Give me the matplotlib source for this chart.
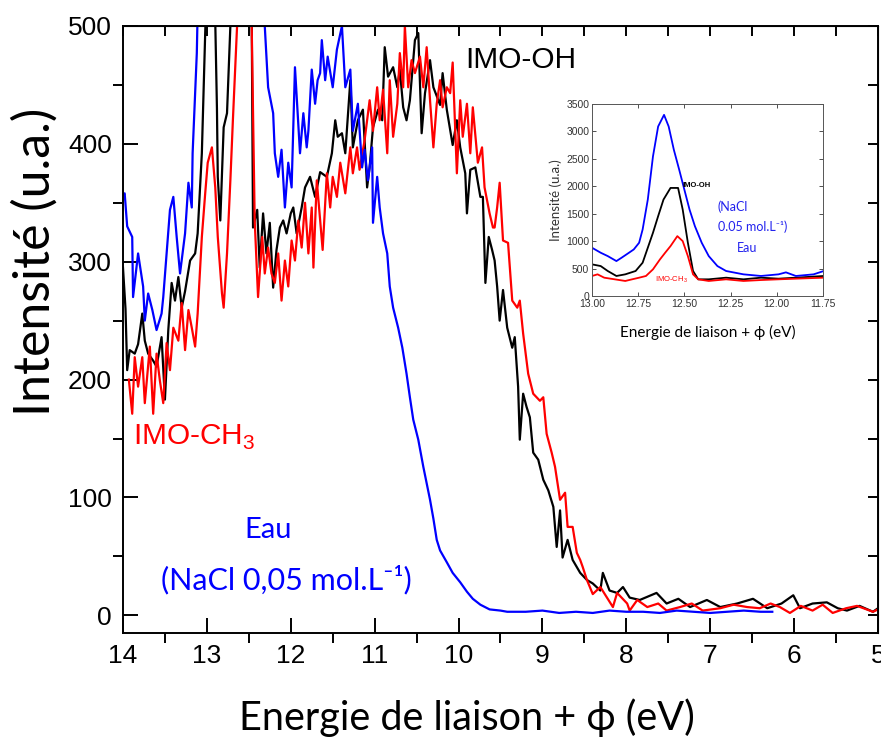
import numpy as np
import matplotlib
matplotlib.use("Agg")
import matplotlib.pyplot as plt
from matplotlib.ticker import MultipleLocator

# --- donnees (energie eV, intensite u.a.) ---
eau_x = [14.0, 13.98, 13.95, 13.89, 13.88, 13.82, 13.76, 13.74, 13.70, 13.65, 13.60, 13.54, 13.52,
         13.48, 13.44, 13.40, 13.36, 13.32, 13.26, 13.22, 13.18, 13.17, 13.12, 13.08, 13.0, 12.9,
         12.8, 12.7, 12.6, 12.5, 12.4, 12.34, 12.31, 12.27, 12.21, 12.19, 12.15, 12.11, 12.07,
         12.03, 11.99, 11.95, 11.89, 11.85, 11.81, 11.79, 11.75, 11.71, 11.68, 11.65, 11.63, 11.59,
         11.56, 11.50, 11.45, 11.39, 11.35, 11.29, 11.26, 11.20, 11.15, 11.12, 11.08, 11.03, 11.02,
         10.97, 10.94, 10.90, 10.85, 10.82, 10.78, 10.72, 10.67, 10.62, 10.58, 10.54, 10.48, 10.42,
         10.38, 10.34, 10.30, 10.26, 10.22, 10.14, 10.07, 9.98, 9.90, 9.83, 9.74, 9.63, 9.50, 9.42,
         9.2, 9.0, 8.8, 8.6, 8.4, 8.2, 8.0, 7.8, 7.6, 7.4, 7.2, 7.0, 6.8, 6.6, 6.4, 6.26]
eau_y = [357, 358, 330, 321, 270, 307, 279, 250, 273, 259, 242, 256, 270,
         307, 344, 355, 321, 290, 324, 367, 346, 392, 477, 620, 700, 720,
         800, 900, 1000, 900, 700, 560, 500, 448, 426, 392, 372, 395, 346,
         384, 363, 465, 392, 426, 397, 411, 463, 434, 454, 460, 488, 454,
         474, 448, 480, 500, 448, 463, 411, 434, 380, 395, 369, 397, 333,
         372, 346, 324, 307, 279, 261, 244, 227, 205, 185, 166, 149, 126,
         112, 98, 82, 64, 55, 45, 36, 28, 20, 14, 9, 5, 4, 3,
         3, 4, 2, 3, 2, 4, 3, 3, 2, 4, 3, 2, 3, 4, 3, 3]

oh_x = [14.0, 13.97, 13.95, 13.92, 13.86, 13.82, 13.77, 13.74, 13.70, 13.64, 13.60, 13.54, 13.50,
        13.46, 13.42, 13.38, 13.34, 13.30, 13.26, 13.20, 13.14, 13.11, 13.06, 13.02, 12.99, 12.95,
        12.91, 12.88, 12.87, 12.84, 12.80, 12.76, 12.72, 12.68, 12.6, 12.52, 12.47, 12.45, 12.40,
        12.37, 12.33, 12.29, 12.25, 12.21, 12.17, 12.13, 12.09, 12.05, 12.00, 11.97, 11.93, 11.87,
        11.83, 11.77, 11.71, 11.65, 11.57, 11.51, 11.47, 11.44, 11.39, 11.35, 11.29, 11.26, 11.20,
        11.14, 11.09, 11.06, 11.02, 10.96, 10.91, 10.88, 10.84, 10.78, 10.73, 10.70, 10.66, 10.62,
        10.58, 10.52, 10.48, 10.44, 10.40, 10.34, 10.30, 10.22, 10.19, 10.14, 10.07, 10.02, 9.98,
        9.92, 9.90, 9.86, 9.80, 9.74, 9.71, 9.68, 9.64, 9.60, 9.57, 9.54, 9.51, 9.47, 9.42, 9.36,
        9.33, 9.29, 9.27, 9.23, 9.19, 9.15, 9.11, 9.05, 8.99, 8.93, 8.87, 8.83, 8.79, 8.76, 8.70,
        8.64, 8.55, 8.47, 8.40, 8.31, 8.28, 8.20, 8.11, 8.04, 7.96, 7.84, 7.64, 7.52, 7.38, 7.24,
        7.04, 6.88, 6.68, 6.49, 6.32, 6.15, 6.01, 5.93, 5.78, 5.61, 5.48, 5.37, 5.22, 5.06, 5.0]
oh_y = [295, 260, 208, 225, 222, 230, 256, 233, 222, 216, 211, 236, 183,
        242, 282, 267, 287, 261, 275, 301, 307, 324, 392, 494, 560, 600,
        540, 430, 372, 335, 414, 426, 500, 700, 900, 700, 560, 329, 344,
        295, 341, 307, 333, 278, 310, 329, 335, 324, 341, 346, 324, 346,
        363, 372, 355, 376, 372, 392, 420, 406, 409, 392, 454, 397, 420,
        429, 363, 380, 414, 429, 420, 482, 457, 465, 448, 463, 431, 420,
        437, 488, 494, 409, 443, 471, 448, 433, 460, 429, 399, 420, 397,
        375, 341, 378, 380, 355, 355, 282, 321, 310, 301, 279, 250, 276, 244, 227,
        236, 194, 149, 188, 177, 168, 138, 132, 115, 106, 92, 58, 89, 49, 64,
        47, 36, 30, 27, 21, 36, 21, 19, 24, 15, 13, 19, 10, 14, 7,
        13, 7, 10, 14, 6, 10, 17, 6, 10, 11, 6, 4, 8, 3, 6]

ch3_x = [13.93, 13.89, 13.86, 13.82, 13.77, 13.74, 13.68, 13.64, 13.60, 13.56, 13.52, 13.48, 13.44,
         13.40, 13.34, 13.30, 13.26, 13.22, 13.18, 13.14, 13.11, 13.06, 13.02, 12.99, 12.94, 12.90,
         12.87, 12.82, 12.80, 12.76, 12.72, 12.69, 12.64, 12.6, 12.55, 12.5, 12.47, 12.43, 12.39,
         12.34, 12.31, 12.27, 12.23, 12.19, 12.15, 12.11, 12.07, 12.03, 11.99, 11.95, 11.91, 11.87,
         11.83, 11.79, 11.75, 11.73, 11.69, 11.65, 11.62, 11.57, 11.53, 11.50, 11.45, 11.41, 11.35,
         11.29, 11.26, 11.21, 11.18, 11.12, 11.06, 11.02, 10.97, 10.94, 10.90, 10.85, 10.82, 10.78,
         10.73, 10.70, 10.66, 10.64, 10.60, 10.56, 10.52, 10.46, 10.42, 10.38, 10.34, 10.30, 10.26,
         10.22, 10.19, 10.14, 10.10, 10.07, 10.02, 9.98, 9.95, 9.90, 9.86, 9.83, 9.77, 9.72, 9.69,
         9.66, 9.63, 9.59, 9.57, 9.54, 9.51, 9.47, 9.41, 9.36, 9.30, 9.27, 9.23, 9.17, 9.11, 9.03,
         8.99, 8.95, 8.89, 8.85, 8.79, 8.73, 8.70, 8.64, 8.59, 8.55, 8.52, 8.47, 8.40, 8.31, 8.23,
         8.16, 8.11, 7.99, 7.96, 7.87, 7.75, 7.62, 7.52, 7.36, 7.22, 7.09, 6.88, 6.72, 6.56, 6.41,
         6.28, 6.17, 6.05, 5.92, 5.78, 5.66, 5.54, 5.38, 5.25, 5.06, 5.0]
ch3_y = [200, 171, 219, 194, 219, 180, 228, 171, 222, 199, 180, 231, 208,
         244, 233, 265, 225, 259, 244, 228, 256, 321, 358, 384, 397, 363,
         321, 273, 261, 307, 369, 420, 500, 650, 800, 650, 520, 335, 270,
         321, 290, 312, 290, 282, 307, 267, 301, 279, 318, 301, 335, 312,
         350, 307, 346, 295, 369, 335, 310, 375, 346, 372, 355, 384, 358,
         397, 375, 397, 378, 403, 437, 411, 448, 420, 446, 392, 454, 406,
         434, 477, 448, 500, 448, 471, 460, 474, 448, 482, 437, 397, 434,
         454, 431, 448, 443, 469, 375, 437, 406, 434, 392, 431, 384, 397, 363,
         352, 341, 329, 329, 346, 367, 318, 316, 267, 261, 267, 239, 205, 188, 182,
         185, 154, 138, 126, 98, 104, 75, 75, 53, 47, 41, 30, 18, 24, 15,
         7, 19, 10, 4, 13, 7, 10, 4, 7, 10, 4, 6, 9, 7, 6,
         10, 7, 2, 8, 4, 9, 2, 6, 8, 3, 5]

# encart (zoom sur 13.00 - 11.75 eV)
in_eau_x = [13.0, 12.953, 12.915, 12.868, 12.84, 12.80, 12.774, 12.745, 12.726, 12.698, 12.67, 12.642,
            12.61, 12.585, 12.557, 12.528, 12.5, 12.472, 12.443, 12.406, 12.368, 12.321, 12.274,
            12.18, 12.085, 11.99, 11.95, 11.896, 11.80, 11.745]
in_eau_y = [879, 788, 727, 636, 697, 788, 848, 970, 1212, 1758, 2545, 3091,
            3303, 3091, 2667, 2303, 1939, 1576, 1273, 970, 727, 545, 455,
            394, 364, 394, 430, 364, 394, 455]
in_oh_x = [13.0, 12.953, 12.915, 12.868, 12.82, 12.764, 12.726, 12.698, 12.67, 12.642, 12.613, 12.575,
           12.534, 12.509, 12.481, 12.453, 12.425, 12.368, 12.274, 12.18, 12.085, 11.99, 11.896, 11.745]
in_oh_y = [576, 545, 455, 364, 394, 455, 606, 879, 1152, 1455, 1758, 1970,
           1970, 1576, 970, 455, 303, 303, 333, 303, 333, 315, 333, 364]
in_ch3_x = [13.0, 12.97, 12.934, 12.877, 12.82, 12.783, 12.745, 12.708, 12.67, 12.632, 12.604, 12.575,
            12.538, 12.509, 12.481, 12.453, 12.425, 12.368, 12.274, 12.18, 12.085, 11.99, 11.896, 11.745]
in_ch3_y = [364, 394, 333, 303, 273, 303, 333, 364, 485, 667, 788, 909,
            1091, 1000, 727, 394, 303, 273, 303, 273, 290, 303, 315, 333]

plt.rcParams['font.family'] = ['Liberation Sans', 'DejaVu Sans']
calibri = ['Lato', 'Noto Sans', 'DejaVu Sans']

fig = plt.figure(figsize=(8.81, 7.38), dpi=100)
ax = fig.add_axes([0.1396, 0.1423, 0.857, 0.8225])

ax.plot(oh_x, oh_y, color='black', lw=1.6)
ax.plot(ch3_x, ch3_y, color='red', lw=1.6)
ax.plot(eau_x, eau_y, color='blue', lw=1.6)

ax.set_xlim(14, 5)
ax.set_ylim(-15, 500)
ax.xaxis.set_major_locator(MultipleLocator(1))
ax.xaxis.set_minor_locator(MultipleLocator(0.5))
ax.yaxis.set_major_locator(MultipleLocator(100))
ax.yaxis.set_minor_locator(MultipleLocator(50))
ax.tick_params(which='major', direction='in', length=11, width=1.4, labelsize=19, pad=8)
ax.tick_params(which='minor', direction='out', length=7, width=1.4)
for s in ax.spines.values():
    s.set_linewidth(1.4)

# petites graduations vers l'interieur en haut et a droite
top = ax.secondary_xaxis('top')
top.xaxis.set_major_locator(MultipleLocator(0.5))
top.tick_params(direction='in', length=7, width=1.4, labeltop=False)
right = ax.secondary_yaxis('right')
right.yaxis.set_major_locator(MultipleLocator(50))
right.tick_params(direction='in', length=7, width=1.4, labelright=False)

fig.text(0.530, 0.027, 'Energie de liaison + ϕ (eV)', family=calibri, fontsize=28.5,
         ha='center', va='center')
fig.text(0.040, 0.645, 'Intensité (u.a.)', family=calibri, fontsize=36,
         ha='center', va='center', rotation=90)

ax.text(9.92, 471, 'IMO-OH', fontsize=21.5, ha='left', va='center')
ax.text(13.88, 151, r'IMO-CH$_\mathregular{3}$', fontsize=21.5, color='red', ha='left', va='center')
ax.text(12.27, 72, 'Eau', family=calibri, fontsize=21, color='blue', ha='center', va='center')
ax.text(12.05, 30, '(NaCl 0,05 mol.L⁻¹)', family=calibri, fontsize=22, color='blue',
        ha='center', va='center')

# encart
ins = fig.add_axes([0.672, 0.599, 0.262, 0.260])
ins.plot(in_oh_x, in_oh_y, color='black', lw=1.3)
ins.plot(in_ch3_x, in_ch3_y, color='red', lw=1.3)
ins.plot(in_eau_x, in_eau_y, color='blue', lw=1.3)
ins.set_xlim(13.0, 11.75)
ins.set_ylim(0, 3500)
ins.yaxis.set_major_locator(MultipleLocator(500))
ins.set_xticks([13.0, 12.75, 12.5, 12.25, 12.0, 11.75])
ins.set_xticklabels(['13.00', '12.75', '12.50', '12.25', '12.00', '11.75'])
ins.tick_params(direction='in', length=3, width=0.6, labelsize=7.5, colors='#333333',
                top=True, right=True, pad=2)
for s in ins.spines.values():
    s.set_linewidth(0.7)
    s.set_color('#555555')
ins.set_ylabel('Intensité (u.a.)', family=calibri, fontsize=9.5, color='#333333', labelpad=3)
ins.set_xlabel('Energie de liaison + ϕ (eV)', family=calibri, fontsize=11, labelpad=12)

ins.text(12.51, 2023, 'IMO-OH', fontsize=5.5, fontweight='bold', ha='left', va='center')
ins.text(12.66, 300, r'IMO-CH$_\mathregular{3}$', fontsize=5.5, color='red', ha='left', va='center')
ins.text(12.32, 1622, '(NaCl', family=calibri, fontsize=9, color='#2222ee', ha='left', va='center')
ins.text(12.32, 1258, '0.05 mol.L⁻¹)', family=calibri, fontsize=9, color='#2222ee',
         ha='left', va='center')
ins.text(12.215, 875, 'Eau', family=calibri, fontsize=9, color='#2222ee', ha='left', va='center')

fig.savefig('out.png', dpi=100)
